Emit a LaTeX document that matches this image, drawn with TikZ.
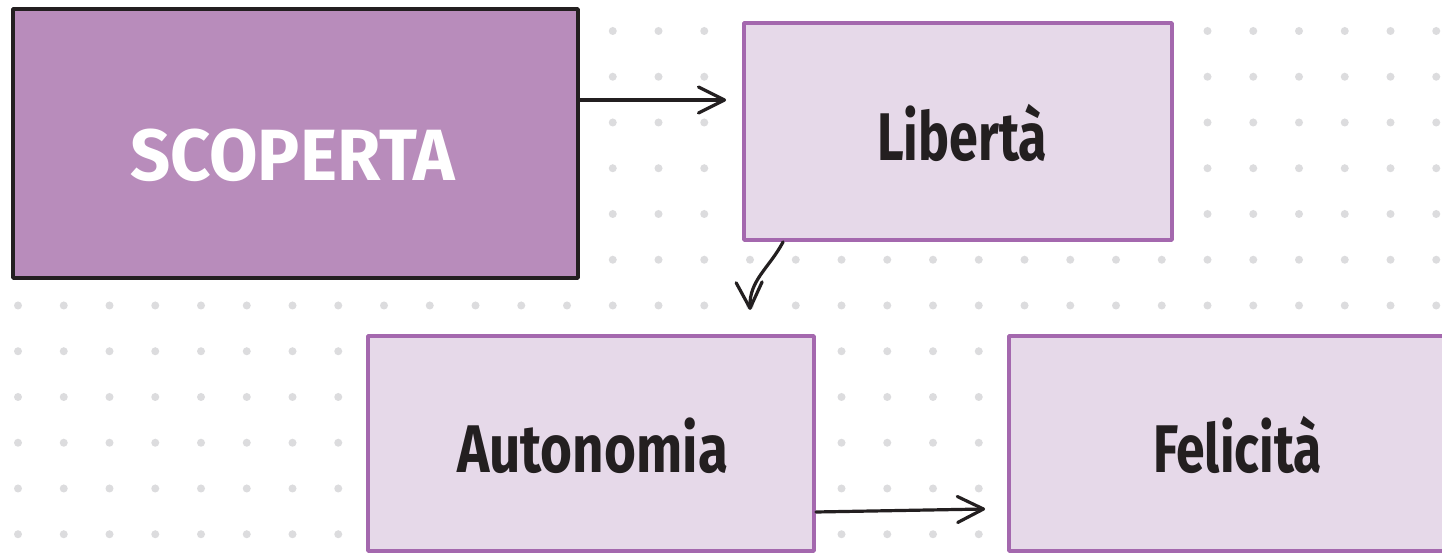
\documentclass[tikz,border=0pt]{standalone}
\usepackage{fontspec}
\setmainfont{Fira Sans}
\usepackage{graphicx}
\usetikzlibrary{arrows.meta}
\definecolor{dotgray}{HTML}{DCDCDE}
\definecolor{darkfill}{HTML}{B88CBB}
\definecolor{lightfill}{HTML}{E6D9E9}
\definecolor{purpleline}{HTML}{A468AE}
\definecolor{ink}{HTML}{231F20}
\newlength\fitlen
\newcommand\fitto[2]{\settowidth\fitlen{#2}\pgfmathsetmacro\fitfac{(#1*0.5)/\fitlen}\scalebox{\fitfac}[1]{#2}}
\tikzset{
  darkbox/.style={draw=ink, line width=1.9pt, fill=darkfill, inner sep=0pt, line join=round},
  lightbox/.style={draw=purpleline, line width=1.9pt, fill=lightfill, inner sep=0pt, line join=round},
  boxtext/.style={inner sep=0pt, anchor=base, text=ink, font=\fontsize{33.7pt}{36pt}\selectfont\bfseries},
  arr/.style={draw=ink, line width=1.6pt, line cap=round, -{Straight Barb[length=13pt, width=13pt, line width=1.6pt, round]}}
}
\begin{document}
\begin{tikzpicture}[x=0.5pt, y=-0.5pt]
\useasboundingbox (0,0) rectangle (1442,555);
\fill[white] (0,0) rectangle (1442,555);
% dot grid
\foreach \i in {0,...,31}{
  \foreach \j in {0,...,11}{
    \fill[dotgray] ({18+45.75*\i},{31+45.75*\j}) circle (4);
  }
}
% boxes
\node[darkbox, minimum width=282.5pt, minimum height=134.5pt] (scop) at (295.5,143.5) {};
\node[lightbox, minimum width=214pt, minimum height=108.5pt] (lib) at (958,131.5) {};
\node[lightbox, minimum width=223pt, minimum height=107.5pt] (auto) at (591,443.5) {};
\node[lightbox, minimum width=225pt, minimum height=107.5pt] (feli) at (1234,443.5) {};
% texts
\node[boxtext, text=white, font=\fontsize{36.3pt}{38pt}\selectfont\bfseries] (scopt) at (292.5,181) {\fitto{325}{SCOPERTA}};
\node[boxtext] (libt) at (962,161) {\fitto{170}{Libertà}};
\node[boxtext] (autot) at (592.5,473) {\fitto{271}{Autonomia}};
\node[boxtext] (felit) at (1237.5,473) {\fitto{169}{Felicità}};
% arrows
\draw[arr] (scop.east |- 0,100) -- ([xshift=-8pt]lib.west |- 0,100);
\draw[arr] ([xshift=20.5pt]lib.south west) to[out=-118, in=92] ([xshift=4pt, yshift=-34pt]lib.south west);
\draw[arr] (auto.east |- 0,512) -- ([xshift=-11pt, yshift=1.5pt]feli.west |- 0,512);
\end{tikzpicture}
\end{document}
